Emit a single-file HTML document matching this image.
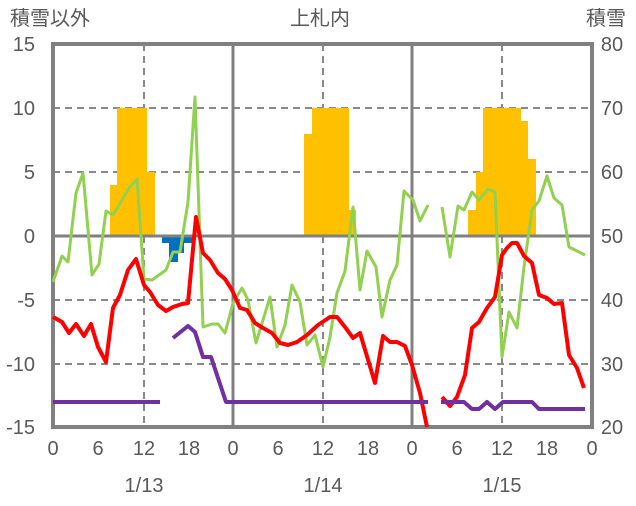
<!DOCTYPE html>
<html><head><meta charset="utf-8"><style>
body{margin:0;background:#fff}
svg text{font-family:"Liberation Sans","Noto Sans CJK JP",sans-serif;fill:#595959}
</style></head><body>
<svg width="636" height="501" viewBox="0 0 636 501" xmlns="http://www.w3.org/2000/svg">
<g stroke="#888" stroke-width="2" stroke-dasharray="7,5">
<line x1="53" y1="108" x2="592" y2="108"/>
<line x1="53" y1="172" x2="592" y2="172"/>
<line x1="53" y1="300" x2="592" y2="300"/>
<line x1="53" y1="364" x2="592" y2="364"/>
<line x1="144" y1="44" x2="144" y2="427"/>
<line x1="323" y1="44" x2="323" y2="427"/>
<line x1="502" y1="44" x2="502" y2="427"/>
</g>
<g fill="#FFC000">
<rect x="110" y="185" width="8" height="51"/>
<rect x="117" y="108" width="30" height="128"/>
<rect x="147" y="172" width="8" height="64"/>
<rect x="304" y="134" width="8" height="102"/>
<rect x="312" y="108" width="37" height="128"/>
<rect x="349" y="210" width="7" height="26"/>
<rect x="468" y="210" width="8" height="26"/>
<rect x="476" y="172" width="7" height="64"/>
<rect x="483" y="108" width="38" height="128"/>
<rect x="521" y="121" width="7" height="115"/>
<rect x="528" y="159" width="8" height="77"/>
</g>
<g fill="#0070C0">
<rect x="162" y="236" width="31" height="7"/>
<rect x="169" y="236" width="9" height="26"/>
<rect x="177" y="236" width="7" height="17"/>
</g>
<g stroke="#808080" fill="none">
<line x1="233" y1="44" x2="233" y2="427" stroke-width="3"/>
<line x1="412" y1="44" x2="412" y2="427" stroke-width="3"/>
<line x1="53" y1="236" x2="592" y2="236" stroke-width="3"/>
<rect x="53" y="44" width="539" height="383" stroke-width="4"/>
</g>
<g fill="none" stroke-width="3" stroke-linejoin="round">
<polyline stroke="#92D050" points="53,282 62,256 68,262 76,193 83,173 92,275 99,264 106,211 113,215 122,200 129,188 137,179 144,279 152,280 166,270 173,252 180,252 188,202 195,97 203,327 212,324 218,324 225,333 233,303 242,288 248,300 256,343 270,297 277,347 285,325 292,285 300,302 307,345 315,335 323,367 330,337 337,293 345,271 353,207 360,290 367,251 376,267 382,317 390,280 397,265 404,191 413,200 420,221 428,205"/>
<polyline stroke="#92D050" points="442,207 450,257 458,206 464,210 472,192 479,200 488,189 495,192 502,357 509,312 517,328 524,267 532,210 539,201 547,176 554,198 562,205 569,247 577,251 585,255"/>
</g>
<g fill="none" stroke-width="4" stroke-linejoin="round">
<polyline stroke="#FF0000" points="53,317 62,322 69,333 76,324 84,336 91,324 98,347 106,362 113,308 120,295 128,270 136,259 144,285 150,292 158,305 166,311 173,307 182,304 188,303 196,217 203,253 210,260 218,273 225,279 232,290 240,308 247,310 255,323 263,328 272,333 280,343 288,345 297,342 307,335 318,325 330,317 337,317 345,327 353,338 360,333 375,383 383,336 390,342 397,342 405,346 412,365 420,393 427,427"/>
<polyline stroke="#FF0000" points="442,397 450,406 457,397 465,375 472,328 479,322 487,308 495,297 502,255 507,248 512,243 517,243 524,256 532,263 539,295 547,298 554,304 562,303 569,355 577,368 584,388"/>
<polyline stroke="#7030A0" points="53,402 160,402"/>
<polyline stroke="#7030A0" points="173,338 188,326 195,332 203,357 211,357 226,402 428,402"/>
<polyline stroke="#7030A0" points="441,402 464,402 472,409 479,409 487,402 495,409 503,402 532,402 539,409 585,409"/>
</g>
<g font-size="20">
<text x="10" y="25">積雪以外</text>
<text x="320" y="25" text-anchor="middle">上札内</text>
<text x="626" y="25" text-anchor="end">積雪</text>
</g>
<g font-size="20" text-anchor="end">
<text x="35" y="51">15</text><text x="35" y="115">10</text><text x="35" y="179">5</text><text x="35" y="243">0</text><text x="35" y="307">-5</text><text x="35" y="371">-10</text><text x="35" y="434">-15</text>
</g>
<g font-size="20" text-anchor="middle">
<text x="612" y="51">80</text><text x="612" y="115">70</text><text x="612" y="179">60</text><text x="612" y="243">50</text><text x="612" y="307">40</text><text x="612" y="371">30</text><text x="612" y="434">20</text>
<text x="53" y="455">0</text><text x="98" y="455">6</text><text x="144" y="455">12</text><text x="189" y="455">18</text>
<text x="233" y="455">0</text><text x="278" y="455">6</text><text x="323" y="455">12</text><text x="368" y="455">18</text>
<text x="412" y="455">0</text><text x="457" y="455">6</text><text x="502" y="455">12</text><text x="547" y="455">18</text>
<text x="592" y="455">0</text>
<text x="144" y="492">1/13</text><text x="323" y="492">1/14</text><text x="502" y="492">1/15</text>
</g>
</svg>
</body></html>
